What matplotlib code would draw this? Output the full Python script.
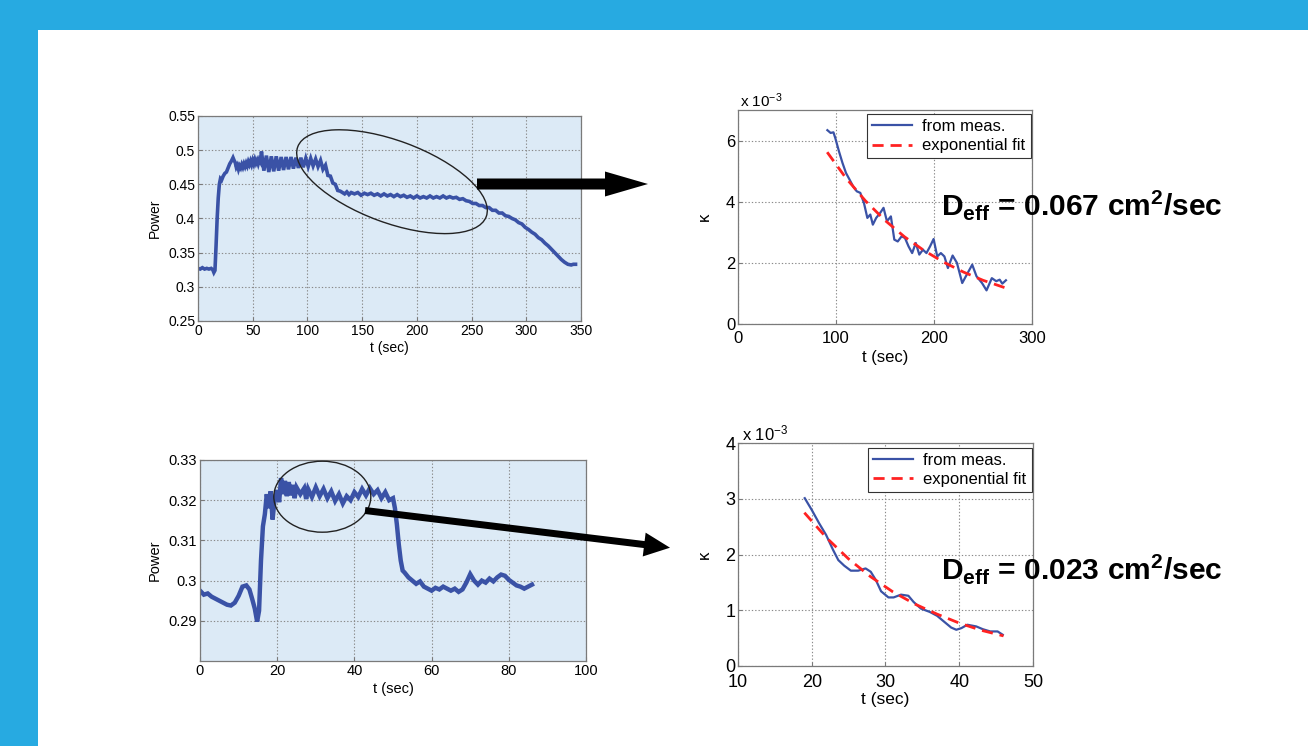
import numpy as np
import matplotlib
matplotlib.use("Agg")
import matplotlib.pyplot as plt
from matplotlib.patches import Ellipse, FancyArrow, Rectangle

plt.rcParams['font.family'] = ['Liberation Sans', 'DejaVu Sans']
plt.rcParams['mathtext.fontset'] = 'custom'
plt.rcParams['mathtext.rm'] = 'Liberation Sans'
plt.rcParams['mathtext.it'] = 'Liberation Sans:italic'
plt.rcParams['mathtext.bf'] = 'Liberation Sans:bold'

# ---------------- data ----------------
# Top-left: Power vs t (sec)
power_top_pts = [
    (0, .327), (2, .326), (4, .328), (6, .326), (8, .327), (10, .326), (12, .327),
    (13.5, .325), (14.5, .321), (15.5, .324), (16.5, .360), (17.5, .400), (18.5, .430),
    (19.5, .450), (20.5, .458), (21.5, .456), (23, .462), (24.5, .466), (26, .468),
    (27.5, .474), (29, .480), (30.5, .484), (32, .489), (33, .485), (34, .482),
    (35, .475), (36, .478), (37, .472), (38, .477), (39, .474), (40, .479), (41, .475),
    (42, .480), (43, .476), (44, .481), (45, .477), (46, .483), (47, .479), (48, .484),
    (49, .479), (50, .485), (51, .480), (52, .486), (53, .481), (54, .485), (55, .480),
    (56, .486), (57, .483), (58, .498),
    (60.2, .470), (62.5, .492), (64.7, .468), (67, .491), (69.2, .469), (71.5, .491),
    (73.7, .470), (76, .490), (78.2, .471), (80.5, .490), (82.7, .472), (85, .490),
    (87.2, .473), (89.5, .489), (91.7, .474), (94, .489), (96.2, .475), (98.5, .488),
    (100.7, .476), (103, .488), (105.2, .477), (107.5, .487), (109.7, .476), (112, .485),
    (114.2, .472), (116.5, .478), (118.7, .463), (121, .462), (123.2, .452), (125.5, .450),
    (127.7, .441), (130, .440),
    (132, .438), (134, .436), (136, .439), (138, .435), (140, .438), (143, .436),
    (146, .438), (149, .434), (152, .437), (155, .435), (158, .437), (161, .434),
    (164, .436), (167, .433), (170, .436), (173, .433), (176, .435), (179, .432),
    (182, .435), (185, .432), (188, .434), (191, .431), (194, .433), (197, .430),
    (200, .433), (203, .430), (206, .432), (209, .430), (212, .433), (215, .430),
    (218, .432), (221, .430), (224, .433), (227, .430), (230, .432), (233, .430),
    (236, .431), (239, .428), (242, .429), (245, .426), (248, .425), (251, .422),
    (254, .422), (257, .419), (260, .419), (263, .416), (266, .416), (269, .412),
    (272, .412), (275, .408), (278, .408), (281, .404), (284, .403), (287, .400),
    (290, .398), (293, .394), (296, .392), (299, .387), (302, .384), (305, .380),
    (308, .377), (311, .372), (314, .369), (317, .364), (320, .360), (323, .355),
    (326, .350), (329, .345), (332, .340), (335, .336), (338, .333), (341, .332),
    (343, .333), (345, .333),
]

# Bottom-left: Power vs t (sec)
power_bot_pts = [
    (0, .2975), (1, .2965), (2, .2968), (3, .2960), (4, .2955), (5, .2950), (6, .2945),
    (7, .2940), (8, .2938), (9, .2945), (10, .2962), (11, .2985), (12, .2988),
    (12.8, .2978), (13.5, .2955), (14.2, .2930), (14.8, .2898), (15.3, .2925),
    (15.8, .3050), (16.3, .3135), (16.8, .3165), (17.3, .3215), (17.8, .3180),
    (18.3, .3222), (18.8, .3152), (19.3, .3200), (20, .3225), (20.5, .3195),
    (21, .3255), (21.5, .3215), (22, .3248), (22.5, .3210), (23, .3245), (23.5, .3212),
    (24, .3238), (24.5, .3205), (25, .3232), (26, .3215), (27, .3230), (27.5, .3203),
    (28, .3228), (29, .3208), (30, .3232), (31, .3210), (32, .3228), (33, .3205),
    (34, .3222), (35, .3198), (36, .3215), (37, .3192), (38, .3210), (39, .3200),
    (40, .3220), (41, .3208), (42, .3228), (43, .3212), (44, .3230), (45, .3215),
    (46, .3225), (47, .3205), (48, .3220), (49, .3200), (50, .3205), (50.5, .3180),
    (51, .3140), (51.5, .3090), (52, .3050), (52.5, .3025), (53, .3020), (54, .3008),
    (55, .3000), (56, .2992), (57, .2998), (58, .2985), (59, .2980), (60, .2975),
    (61, .2982), (62, .2978), (63, .2985), (64, .2980), (65, .2975), (66, .2980),
    (67, .2972), (68, .2978), (69, .2995), (70, .3016), (71, .3000), (72, .2990),
    (73, .3000), (74, .2995), (75, .3005), (76, .2998), (77, .3008), (78, .3015),
    (79, .3012), (80, .3002), (81, .2995), (82, .2988), (83, .2985), (84, .2980),
    (85, .2985), (86, .2990),
]

# Top-right: kappa (x1e-3) vs t (sec)
t_kappa_top = [91.2, 94.5, 97.4, 99.3, 103, 106.6, 110.2, 113.9, 117.5, 121.2, 124.8,
               128.5, 132, 135, 137.6, 141, 145, 148.5, 152, 156, 159.5, 163, 167,
               170.4, 174, 177.7, 181.4, 185, 188.7, 192.3, 196, 199.6, 203.3, 207,
               210.6, 214.2, 219, 223.4, 228.8, 232.5, 239, 243.4, 249, 253.6, 259,
               263.5, 267, 269.7, 273.4]
kappa_top = [6.34, 6.25, 6.27, 6.08, 5.65, 5.27, 4.94, 4.72, 4.50, 4.34, 4.29, 3.96,
             3.47, 3.58, 3.25, 3.47, 3.63, 3.80, 3.36, 3.52, 2.76, 2.70, 2.87, 2.81,
             2.54, 2.32, 2.65, 2.27, 2.43, 2.32, 2.54, 2.78, 2.21, 2.32, 2.21, 1.83,
             2.24, 2.00, 1.34, 1.56, 1.94, 1.56, 1.34, 1.10, 1.50, 1.40, 1.45, 1.32, 1.43]
t_fit_top = [91, 110, 130, 150, 170, 190, 210, 230, 250, 273]
fit_top = [5.62, 4.78, 4.03, 3.39, 2.85, 2.40, 2.02, 1.70, 1.43, 1.18]

# Bottom-right: kappa (x1e-3) vs t (sec)
t_kappa_bot = [19.05, 20, 21, 21.95, 22.9, 23.6, 24.4, 25.3, 26.3, 27.3, 28, 28.7, 29.4,
               30.4, 31.1, 32.1, 33.1, 33.8, 34.8, 36, 37, 37.9, 38.9, 39.6, 40.3, 41.1,
               42.3, 43.2, 44.2, 45.2, 45.9]
kappa_bot = [3.01, 2.80, 2.56, 2.35, 2.08, 1.90, 1.80, 1.71, 1.71, 1.75, 1.69, 1.54, 1.34,
             1.23, 1.23, 1.28, 1.26, 1.15, 1.03, 0.97, 0.90, 0.80, 0.69, 0.65, 0.68, 0.74,
             0.71, 0.66, 0.62, 0.62, 0.56]
t_fit_bot = [19, 22, 25, 28, 31, 34, 37, 40, 43, 46]
fit_bot = [2.75, 2.30, 1.92, 1.60, 1.33, 1.11, 0.93, 0.77, 0.64, 0.54]

# tick labels
tl_xticks = [0, 50, 100, 150, 200, 250, 300, 350]
tl_yticks = [0.25, 0.3, 0.35, 0.4, 0.45, 0.5, 0.55]
tl_ylabels = ['0.25', '0.3', '0.35', '0.4', '0.45', '0.5', '0.55']
bl_xticks = [0, 20, 40, 60, 80, 100]
bl_yticks = [0.29, 0.30, 0.31, 0.32, 0.33]
bl_ylabels = ['0.29', '0.3', '0.31', '0.32', '0.33']
tr_xticks = [0, 100, 200, 300]
tr_yticks = [0, 2, 4, 6]
br_xticks = [10, 20, 30, 40, 50]
br_yticks = [0, 1, 2, 3, 4]

legend_labels = ['from meas.', 'exponential fit']
deff_top = r'$\mathbf{D_{eff}}$ = 0.067 $\mathbf{cm^{2}}$/sec'
deff_bot = r'$\mathbf{D_{eff}}$ = 0.023 $\mathbf{cm^{2}}$/sec'

# ---------------- layout ----------------
W, H = 1308, 746
fig = plt.figure(figsize=(W / 100, H / 100), dpi=100)
fig.patch.set_facecolor('white')


def rect(x0, y0, x1, y1):
    return [x0 / W, 1 - y1 / H, (x1 - x0) / W, (y1 - y0) / H]


LINE_BLUE = '#3a52a6'
FIT_RED = '#ff2222'
PANEL_BG = '#dceaf6'
SPINE = '#7a7a7a'


def style(ax, fs, bg, xpad=2):
    ax.set_facecolor(bg)
    for s in ax.spines.values():
        s.set_color(SPINE)
        s.set_linewidth(0.9)
    ax.grid(True, linestyle=(0, (1.2, 1.8)), color='#8a8a8a', linewidth=0.8)
    ax.tick_params(direction='in', length=3, color=SPINE, labelsize=fs, pad=2)
    ax.tick_params(axis='x', pad=xpad)
    ax.set_axisbelow(True)


# Top-left
ax1 = fig.add_axes(rect(198, 116, 581, 321))
style(ax1, 10, PANEL_BG)
tt, pp = zip(*power_top_pts)
ax1.plot(tt, pp, color=LINE_BLUE, lw=2.6, solid_joinstyle='miter')
ax1.set_xlim(0, 350)
ax1.set_ylim(0.25, 0.55)
ax1.set_xticks(tl_xticks)
ax1.set_yticks(tl_yticks)
ax1.set_yticklabels(tl_ylabels)
ax1.set_xlabel('t (sec)', fontsize=10)
ax1.set_ylabel('Power', fontsize=10)
ax1.xaxis.set_label_coords(0.5, -0.098)
ax1.yaxis.set_label_coords(-0.094, 0.5)

# Bottom-left
ax3 = fig.add_axes(rect(200, 460, 586, 661))
style(ax3, 10.5, PANEL_BG)
tb, pb = zip(*power_bot_pts)
ax3.plot(tb, pb, color=LINE_BLUE, lw=3.2, solid_joinstyle='miter')
ax3.set_xlim(0, 100)
ax3.set_ylim(0.28, 0.33)
ax3.set_xticks(bl_xticks)
ax3.set_yticks(bl_yticks)
ax3.set_yticklabels(bl_ylabels)
ax3.set_xlabel('t (sec)', fontsize=10.5)
ax3.set_ylabel('Power', fontsize=10.5)
ax3.xaxis.set_label_coords(0.5, -0.104)
ax3.yaxis.set_label_coords(-0.098, 0.5)

# Top-right
ax2 = fig.add_axes(rect(738, 110, 1032, 324))
style(ax2, 12, 'white', xpad=5)
l1, = ax2.plot(t_kappa_top, kappa_top, color=LINE_BLUE, lw=1.6)
l2, = ax2.plot(t_fit_top, fit_top, color=FIT_RED, lw=2.0, dashes=(4, 2.5))
ax2.set_xlim(0, 300)
ax2.set_ylim(0, 7)
ax2.set_xticks(tr_xticks)
ax2.set_yticks(tr_yticks)
ax2.set_xlabel('t (sec)', fontsize=12)
ax2.set_ylabel('κ', fontsize=12)
ax2.xaxis.set_label_coords(0.5, -0.12)
ax2.yaxis.set_label_coords(-0.088, 0.5)
leg = ax2.legend([l1, l2], legend_labels, loc='upper right', bbox_to_anchor=(0.995, 0.98),
                 borderaxespad=0, fontsize=12, fancybox=False, framealpha=1,
                 handlelength=2.4, handletextpad=0.6, borderpad=0.3, labelspacing=0.25)
leg.get_frame().set_edgecolor('#333333')
leg.get_frame().set_linewidth(0.8)

# Bottom-right
ax4 = fig.add_axes(rect(738, 443, 1033, 666))
style(ax4, 13, 'white', xpad=6)
m1, = ax4.plot(t_kappa_bot, kappa_bot, color=LINE_BLUE, lw=1.6)
m2, = ax4.plot(t_fit_bot, fit_bot, color=FIT_RED, lw=2.0, dashes=(4, 2.5))
ax4.set_xlim(10, 50)
ax4.set_ylim(0, 4)
ax4.set_xticks(br_xticks)
ax4.set_yticks(br_yticks)
ax4.set_xlabel('t (sec)', fontsize=12.5)
ax4.set_ylabel('κ', fontsize=12)
ax4.xaxis.set_label_coords(0.5, -0.118)
ax4.yaxis.set_label_coords(-0.088, 0.5)
leg2 = ax4.legend([m1, m2], legend_labels, loc='upper right', bbox_to_anchor=(0.995, 0.978),
                  borderaxespad=0, fontsize=12, fancybox=False, framealpha=1,
                  handlelength=2.4, handletextpad=0.6, borderpad=0.3, labelspacing=0.25)
leg2.get_frame().set_edgecolor('#333333')
leg2.get_frame().set_linewidth(0.8)

# ---------------- overlay (frame, annotations) ----------------
ov = fig.add_axes([0, 0, 1, 1], zorder=10)
ov.set_xlim(0, W)
ov.set_ylim(H, 0)
ov.axis('off')
ov.patch.set_alpha(0)

FRAME = '#27aae1'
ov.add_patch(Rectangle((0, 0), W, 30, color=FRAME, lw=0))
ov.add_patch(Rectangle((0, 0), 38, H, color=FRAME, lw=0))

ov.text(740, 107, r'x 10$^{-3}$', fontsize=11, va='baseline', ha='left')
ov.text(742, 440, r'x 10$^{-3}$', fontsize=12, va='baseline', ha='left')

ov.add_patch(Ellipse((392, 181.7), 201, 82, angle=20.3, fill=False, edgecolor='#222222', lw=1.0))
ov.add_patch(Ellipse((322.3, 496.7), 97, 71, angle=0, fill=False, edgecolor='#222222', lw=1.0))

ov.add_patch(FancyArrow(477, 184, 171, 0, width=11, head_width=25, head_length=43,
                        length_includes_head=True, color='black', lw=0))
ov.add_patch(FancyArrow(365, 510.5, 305, 37.2, width=7, head_width=24, head_length=26,
                        length_includes_head=True, color='black', lw=0))

ov.text(941, 215, deff_top, fontsize=21.6, fontweight='bold', va='baseline', ha='left')
ov.text(941, 579, deff_bot, fontsize=21.6, fontweight='bold', va='baseline', ha='left')

fig.savefig('out.png', dpi=100)
